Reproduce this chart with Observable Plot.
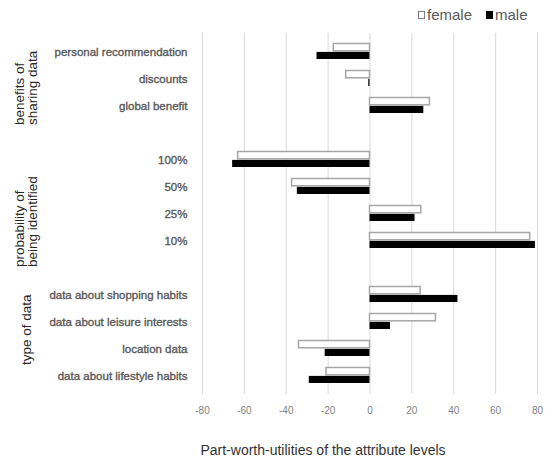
<!DOCTYPE html>
<html>
<head>
<meta charset="utf-8">
<script src="https://cdn.jsdelivr.net/npm/d3@7"></script>
<script src="https://cdn.jsdelivr.net/npm/@observablehq/plot@0.6"></script>
<style>
  html, body { margin: 0; padding: 0; background: #fff; }
  #wrap { position: relative; width: 545px; height: 463px; font-family: "Liberation Sans", Arial, sans-serif; }
  #legend { position: absolute; top: 6px; left: 418px; display: flex; align-items: center; font-size: 15px; color: #595959; }
  #legend .sw { display: inline-block; width: 7px; height: 8px; box-sizing: border-box; margin-right: 2px; }
  #legend .item { display: flex; align-items: center; margin-right: 14px; }
  #caption { position: absolute; top: 442px; left: 0; width: 646px; text-align: center; font-size: 14px; color: #333; }
  svg [aria-label="y-axis tick label"] { fill: #595959; stroke: #595959; stroke-width: 0.35px; font-size: 11.5px; }
  svg [aria-label="x-axis tick label"] { fill: #7f7f7f; font-size: 10px; }
</style>
</head>
<body>
<div id="wrap">
  <div id="chart"></div>
  <div id="legend"></div>
  <div id="caption"></div>
</div>
<script>
// ---- data ----
const rows = ["personal recommendation", "discounts", "global benefit", "gap1",
  "100%", "50%", "25%", "10%", "gap2",
  "data about shopping habits", "data about leisure interests", "location data", "data about lifestyle habits"];
const categories = ["personal recommendation", "discounts", "global benefit",
  "100%", "50%", "25%", "10%",
  "data about shopping habits", "data about leisure interests", "location data", "data about lifestyle habits"];
const femaleValues = [-17.3, -11.4, 28.6, -63.0, -37.2, 24.5, 76.5, 24.2, 31.5, -33.9, -20.8];
const maleValues   = [-25.3, -0.6, 25.7, -65.6, -34.7, 21.5, 79.0, 42.0, 9.8, -21.4, -29.0];
const seriesNames = ["female", "male"];
const xTicks = [-80, -60, -40, -20, 0, 20, 40, 60, 80];
const groupLabels = ["benefits of\nsharing data", "probability of\nbeing identified", "type of data"];
const groupRows = ["global benefit", "10%", "location data"];
const axisTitle = "Part-worth-utilities of the attribute levels";

const table = categories.map((c, i) => ({category: c, female: femaleValues[i], male: maleValues[i]}));
const groups = groupLabels.map((label, i) => ({label, row: groupRows[i]}));

const groupText = (i, dy) => Plot.text([groups[i]], {
  y: "row", text: "label", frameAnchor: "left", dx: -176, dy,
  rotate: -90, textAnchor: "start", lineAnchor: "middle",
  fontSize: 13.5, lineHeight: 0.97, fill: "#262626"
});

const chart = Plot.plot({
  width: 545,
  height: 463,
  marginTop: 33,
  marginBottom: 69,
  marginLeft: 202,
  marginRight: 8,
  style: {fontFamily: "'Liberation Sans', Arial, sans-serif", background: "white"},
  x: {domain: [-80, 80], ticks: xTicks, tickFormat: d => String(d), tickSize: 0, tickPadding: 12, label: null},
  y: {domain: rows, padding: 0, tickSize: 0, tickPadding: 15, tickFormat: d => d.startsWith("gap") ? "" : d, label: null},
  marks: [
    Plot.ruleX(xTicks, {stroke: "#d9d9d9", strokeWidth: 1}),
    Plot.barX(table, {y: "category", x1: 0, x2: "female", fill: "white", stroke: "#a6a6a6", strokeWidth: 1.5, insetTop: 5.5, insetBottom: 14.2}),
    Plot.barX(table, {y: "category", x1: 0, x2: "male", fill: "black", insetTop: 13.9, insetBottom: 6}),
    groupText(0, 19),
    groupText(1, 26),
    groupText(2, 16)
  ]
});
document.getElementById("chart").appendChild(chart);

// legend
const legend = document.getElementById("legend");
seriesNames.forEach(name => {
  const item = document.createElement("span");
  item.className = "item";
  const sw = document.createElement("span");
  sw.className = "sw";
  if (name === "female") { sw.style.background = "#fff"; sw.style.border = "1px solid #7f7f7f"; }
  else { sw.style.background = "#000"; }
  const t = document.createElement("span");
  t.textContent = name;
  item.appendChild(sw); item.appendChild(t);
  legend.appendChild(item);
});
document.getElementById("caption").textContent = axisTitle;
</script>
</body>
</html>
